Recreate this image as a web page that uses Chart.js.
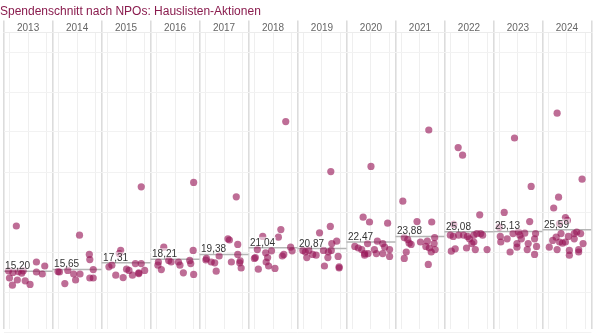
<!DOCTYPE html>
<html>
<head>
<meta charset="utf-8">
<script src="https://cdn.jsdelivr.net/npm/chart.js@4/dist/chart.umd.min.js"></script>
<style>
html,body{margin:0;padding:0;background:#fff;}
canvas{display:block;}
</style>
</head>
<body>
<canvas id="c" width="595" height="333"></canvas>
<script>
const titleText = 'Spendenschnitt nach NPOs: Hauslisten-Aktionen';
const years = ['2013','2014','2015','2016','2017','2018','2019','2020','2021','2022','2023','2024'];
const means = [15.20, 15.65, 17.31, 18.21, 19.38, 21.04, 20.87, 22.47, 23.88, 25.08, 25.13, 25.59];

// each point: [position inside the year column (0..1), value]
const p2013 = [[0.26,26.5],[0.67,17.5],[0.84,16.5],[0.12,13.5],[0.19,14.9],[0.30,15.1],[0.40,15.3],[0.28,13.0],[0.18,11.7],[0.44,12.8],[0.54,11.9],[0.67,15.0],[0.79,14.5],[0.37,14.7],[0.10,15.3]];
const p2014 = [[0.55,24.2],[0.75,19.4],[0.76,18.1],[0.14,15.0],[0.11,15.1],[0.31,15.4],[0.43,14.5],[0.47,13.0],[0.25,12.1],[0.56,14.5],[0.83,15.6],[0.76,13.5],[0.83,13.5]];
const p2015 = [[0.81,36.3],[0.39,20.4],[0.36,19.6],[0.15,16.3],[0.29,14.2],[0.44,13.6],[0.51,15.7],[0.56,15.4],[0.63,14.2],[0.69,17.1],[0.81,17.1],[0.76,14.8],[0.88,15.4],[0.21,16.7],[0.76,14.6]];
const p2016 = [[0.88,37.4],[0.27,21.2],[0.16,17.5],[0.15,16.7],[0.22,15.6],[0.37,17.9],[0.42,17.5],[0.57,17.5],[0.67,14.8],[0.80,17.9],[0.82,17.1],[0.87,20.4],[0.88,14.4],[0.60,16.7]];
const p2017 = [[0.75,33.8],[0.58,23.3],[0.61,23.0],[0.78,21.9],[0.14,18.4],[0.24,17.5],[0.31,17.3],[0.34,15.2],[0.65,17.5],[0.78,19.4],[0.82,17.3],[0.83,17.8],[0.85,16.0],[0.40,19.0],[0.13,18.0]];
const p2018 = [[0.76,52.6],[0.66,25.6],[0.61,23.7],[0.29,23.9],[0.18,20.6],[0.35,19.8],[0.47,20.3],[0.14,18.6],[0.39,18.6],[0.36,17.5],[0.41,16.5],[0.20,15.7],[0.54,15.9],[0.69,19.0],[0.72,19.4],[0.86,21.2],[0.89,20.3],[0.12,18.4]];
const p2019 = [[0.68,40.1],[0.67,26.4],[0.45,24.8],[0.80,22.7],[0.70,22.1],[0.11,20.4],[0.23,20.4],[0.16,20.0],[0.31,19.4],[0.38,19.2],[0.19,18.6],[0.53,20.4],[0.63,20.0],[0.62,18.6],[0.55,16.5],[0.83,18.9],[0.85,16.3],[0.85,16.0],[0.69,20.4]];
const p2020 = [[0.50,41.4],[0.34,28.7],[0.47,27.5],[0.84,27.2],[0.17,21.4],[0.24,21.0],[0.31,20.6],[0.37,19.6],[0.43,22.1],[0.44,19.6],[0.57,20.6],[0.61,19.6],[0.63,22.7],[0.74,22.1],[0.78,21.2],[0.74,19.6],[0.88,20.6],[0.88,18.9],[0.37,19.2]];
const p2021 = [[0.68,50.5],[0.15,32.7],[0.44,27.6],[0.74,27.5],[0.18,23.6],[0.25,23.1],[0.28,22.2],[0.32,21.9],[0.51,22.5],[0.65,22.7],[0.62,21.4],[0.69,21.0],[0.79,22.1],[0.81,20.6],[0.73,20.0],[0.22,20.0],[0.18,18.4],[0.67,16.9],[0.80,23.6]];
const p2022 = [[0.28,46.1],[0.37,44.2],[0.72,29.3],[0.19,26.9],[0.12,24.2],[0.18,23.9],[0.29,24.2],[0.39,24.2],[0.47,23.9],[0.51,23.3],[0.60,24.2],[0.66,24.6],[0.74,24.6],[0.78,24.2],[0.60,22.5],[0.56,22.1],[0.45,21.0],[0.63,20.6],[0.87,20.6],[0.22,20.8],[0.14,20.2]];
const p2023 = [[0.43,48.5],[0.77,36.4],[0.22,29.9],[0.74,27.6],[0.12,26.2],[0.14,23.9],[0.15,22.5],[0.28,23.3],[0.40,24.6],[0.51,25.0],[0.54,24.2],[0.57,23.3],[0.64,24.7],[0.48,22.1],[0.48,21.2],[0.34,20.0],[0.71,22.1],[0.69,20.6],[0.86,24.6],[0.84,23.3],[0.88,21.4],[0.84,19.4]];
const p2024 = [[0.30,54.7],[0.81,38.2],[0.33,33.7],[0.23,31.0],[0.47,28.6],[0.51,27.9],[0.35,27.1],[0.14,21.2],[0.21,22.9],[0.28,23.7],[0.30,20.6],[0.35,22.5],[0.41,22.2],[0.47,22.5],[0.38,24.6],[0.53,23.9],[0.55,20.4],[0.55,19.2],[0.65,24.6],[0.70,25.0],[0.65,23.3],[0.78,24.6],[0.83,22.1],[0.74,20.6],[0.74,20.0]];
const yTicks = [0,10,20,30,40,50,60,70];
const minorOffsets = [0.12, 0.5, 0.88];

const pointsByYear = [p2013,p2014,p2015,p2016,p2017,p2018,p2019,p2020,p2021,p2022,p2023,p2024];
const FONT = "'Liberation Sans', Arial, Helvetica, sans-serif";

const scatterData = [];
pointsByYear.forEach((arr, i) => arr.forEach(([o, v]) => scatterData.push({x: i + o, y: v})));

const meanSets = means.map((m, i) => ({
  type: 'line',
  data: [{x: i, y: m}, {x: i + 1, y: m}],
  borderColor: '#b5b5b5',
  borderWidth: 1.5,
  pointRadius: 0,
  fill: false,
  order: 2
}));

const isMajor = v => Math.abs(v - Math.round(v)) < 1e-6;

const meanLabels = {
  id: 'meanLabels',
  afterDatasetsDraw(chart) {
    const ctx = chart.ctx, xs = chart.scales.x, ys = chart.scales.y;
    ctx.save();
    ctx.font = '10px ' + FONT;
    ctx.textBaseline = 'alphabetic';
    ctx.textAlign = 'left';
    means.forEach((m, i) => {
      const txt = m.toFixed(2).replace('.', ',');
      const x = xs.getPixelForValue(i) + 1.5;
      const y = ys.getPixelForValue(m) - 2;
      const w = ctx.measureText(txt).width;
      ctx.fillStyle = 'rgba(255,255,255,0.55)';
      ctx.fillRect(x - 1, y - 9, w + 2, 10);
      ctx.fillStyle = '#333';
      ctx.fillText(txt, x, y);
    });
    ctx.restore();
  }
};

new Chart(document.getElementById('c'), {
  type: 'scatter',
  data: {
    datasets: [
      {
        data: scatterData,
        backgroundColor: 'rgba(150,20,85,0.62)',
        borderWidth: 0,
        pointRadius: 3.6,
        pointHoverRadius: 3.6,
        order: 1
      },
      ...meanSets
    ]
  },
  options: {
    responsive: false,
    animation: false,
    devicePixelRatio: 1,
    layout: {padding: {left: 0, right: 1, top: 0, bottom: 0}},
    plugins: {
      legend: {display: false},
      tooltip: {enabled: false},
      title: {
        display: true,
        text: titleText,
        align: 'start',
        color: '#8a1c4e',
        font: {family: FONT, size: 12, weight: 'normal'},
        padding: {top: 4, bottom: 2}
      }
    },
    scales: {
      x: {
        type: 'linear',
        position: 'bottom',
        min: 0,
        max: years.length,
        afterBuildTicks: s => {
          const t = [];
          for (let i = 0; i < years.length; i++) {
            t.push({value: i});
            minorOffsets.forEach(o => t.push({value: i + o}));
          }
          t.push({value: years.length});
          s.ticks = t;
        },
        ticks: {display: false},
        grid: {
          drawTicks: false,
          color: c => (c.tick && isMajor(c.tick.value)) ? '#dcdcdc' : '#efefef',
          lineWidth: c => (c.tick && isMajor(c.tick.value)) ? 1.6 : 1
        },
        border: {display: false},
        afterFit: s => { s.height = 0; }
      },
      x2: {
        type: 'linear',
        position: 'top',
        min: 0,
        max: years.length,
        afterBuildTicks: s => { s.ticks = years.map((y, i) => ({value: i + 0.5})); },
        ticks: {
          autoSkip: false,
          maxRotation: 0,
          padding: -14,
          color: '#666',
          font: {family: FONT, size: 10},
          callback: v => years[Math.floor(v)]
        },
        grid: {
          offset: true,
          drawOnChartArea: false,
          tickLength: 12,
          color: '#dcdcdc',
          lineWidth: 1.6
        },
        border: {color: '#ececec'},
        afterFit: s => { s.height = 12; }
      },
      y: {
        type: 'linear',
        min: 0.65,
        max: 74.9,
        afterBuildTicks: s => { s.ticks = yTicks.map(v => ({value: v})); },
        ticks: {display: false},
        grid: {drawTicks: false, color: '#f2f2f2'},
        border: {display: false},
        afterFit: s => { s.width = 0; }
      }
    }
  },
  plugins: [meanLabels]
});
</script>
</body>
</html>
